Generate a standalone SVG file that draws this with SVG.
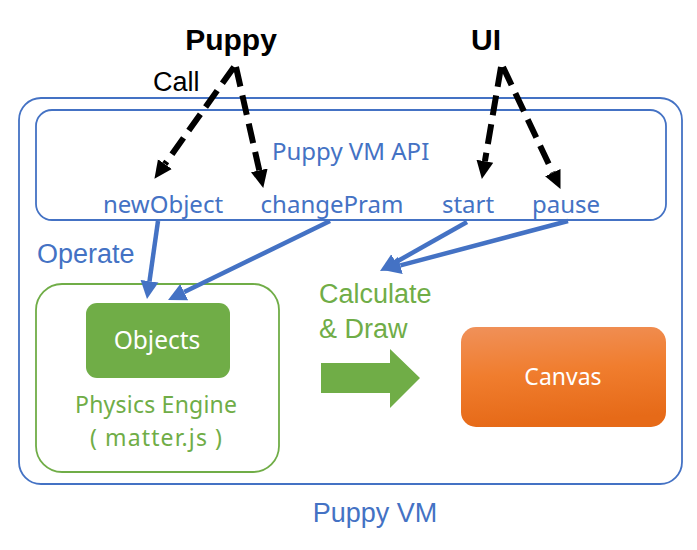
<svg xmlns="http://www.w3.org/2000/svg" width="697" height="550" viewBox="0 0 697 550">
<style>
.blue{fill:#4472c4;font-family:"Noto Sans",sans-serif;font-size:24px}
.helv{font-family:"Liberation Sans",Arial,sans-serif;font-size:27px}
.bold{font-family:"Liberation Sans",Arial,sans-serif;font-size:30px;font-weight:bold;fill:#000}
.dash{stroke:#000;stroke-width:6;stroke-dasharray:20 9;fill:none}
.solid{stroke:#4472c4;stroke-width:4.5;fill:none}
</style>
<defs>
<marker id="ah" markerUnits="userSpaceOnUse" markerWidth="22" markerHeight="22" viewBox="0 -11 22 22" refX="0" refY="0" orient="auto">
<path d="M0,-8.5 L18,0 L0,8.5 z" fill="#000"/>
</marker>
<marker id="bh" markerUnits="userSpaceOnUse" markerWidth="22" markerHeight="22" viewBox="0 -11 22 22" refX="0" refY="0" orient="auto">
<path d="M0,-9 L18,0 L0,9 z" fill="#4472c4"/>
</marker>
<linearGradient id="og" x1="0" y1="0" x2="0.15" y2="1">
<stop offset="0" stop-color="#f0915a"/>
<stop offset="0.5" stop-color="#f07d2e"/>
<stop offset="1" stop-color="#e66a18"/>
</linearGradient>
</defs>
<g id="puppyvm">
<rect x="19" y="98" width="663" height="386" rx="22" fill="none" stroke="#4472c4" stroke-width="1.8"/>
<text class="helv" x="375" y="522" text-anchor="middle" fill="#4472c4">Puppy VM</text>
</g>
<g id="api">
<rect x="36" y="110" width="630" height="110" rx="16" fill="none" stroke="#4472c4" stroke-width="1.8"/>
<text class="blue" x="272" y="160">Puppy VM API</text>
</g>
<g id="newObject"><text class="blue" x="163" y="213" text-anchor="middle">newObject</text></g>
<g id="changePram"><text class="blue" x="332" y="213" text-anchor="middle">changePram</text></g>
<g id="start"><text class="blue" x="468" y="213" text-anchor="middle">start</text></g>
<g id="pause"><text class="blue" x="566" y="213" text-anchor="middle">pause</text></g>
<g id="puppy"><text class="bold" x="231" y="50" text-anchor="middle">Puppy</text></g>
<g id="ui"><text class="bold" x="486" y="50" text-anchor="middle">UI</text></g>
<g id="call"><text class="helv" x="153" y="91" fill="#000">Call</text></g>
<g id="operate"><text class="helv" x="37" y="263" fill="#4472c4">Operate</text></g>
<g id="physics">
<rect x="36" y="284" width="243" height="188" rx="26" fill="none" stroke="#70ad47" stroke-width="1.8"/>
<text class="blue" x="75" y="413" textLength="162" style="fill:#70ad47;font-size:23px">Physics Engine</text>
<text class="blue" x="90" y="446" textLength="132" style="fill:#70ad47;font-size:23px">( matter.js )</text>
</g>
<g id="objects">
<rect x="86" y="303" width="144" height="75" rx="11" fill="#70ad47"/>
<text class="blue" x="157" y="349" text-anchor="middle" style="fill:#fff;font-size:24.5px">Objects</text>
</g>
<g id="calc">
<text class="helv" x="319" y="303" fill="#70ad47">Calculate</text>
<text class="helv" x="319" y="338" fill="#70ad47">&amp; Draw</text>
<polygon points="321,363 390,363 390,349 420,378 390,408 390,393 321,393" fill="#70ad47"/>
</g>
<g id="canvas">
<rect x="461" y="327" width="205" height="100" rx="15" fill="url(#og)"/>
<text class="blue" x="563" y="385" text-anchor="middle" style="fill:#fff;font-size:23px">Canvas</text>
</g>
<g id="connectors">
<line class="dash" x1="234" y1="67" x2="164.9" y2="164.1" marker-end="url(#ah)"/>
<line class="dash" x1="236" y1="67" x2="259.3" y2="170.4" marker-end="url(#ah)"/>
<line class="dash" x1="501" y1="67" x2="484.9" y2="161.2" marker-end="url(#ah)"/>
<line class="dash" x1="503" y1="67" x2="552.8" y2="172.6" marker-end="url(#ah)"/>
<line class="solid" x1="158" y1="221" x2="149.5" y2="281.2" marker-end="url(#bh)"/>
<line class="solid" x1="330" y1="221" x2="184.2" y2="292.1" marker-end="url(#bh)"/>
<line class="solid" x1="467" y1="222" x2="395.7" y2="262.2" marker-end="url(#bh)"/>
<line class="solid" x1="568" y1="221" x2="400.4" y2="265.4" marker-end="url(#bh)"/>
</g>
</svg>
